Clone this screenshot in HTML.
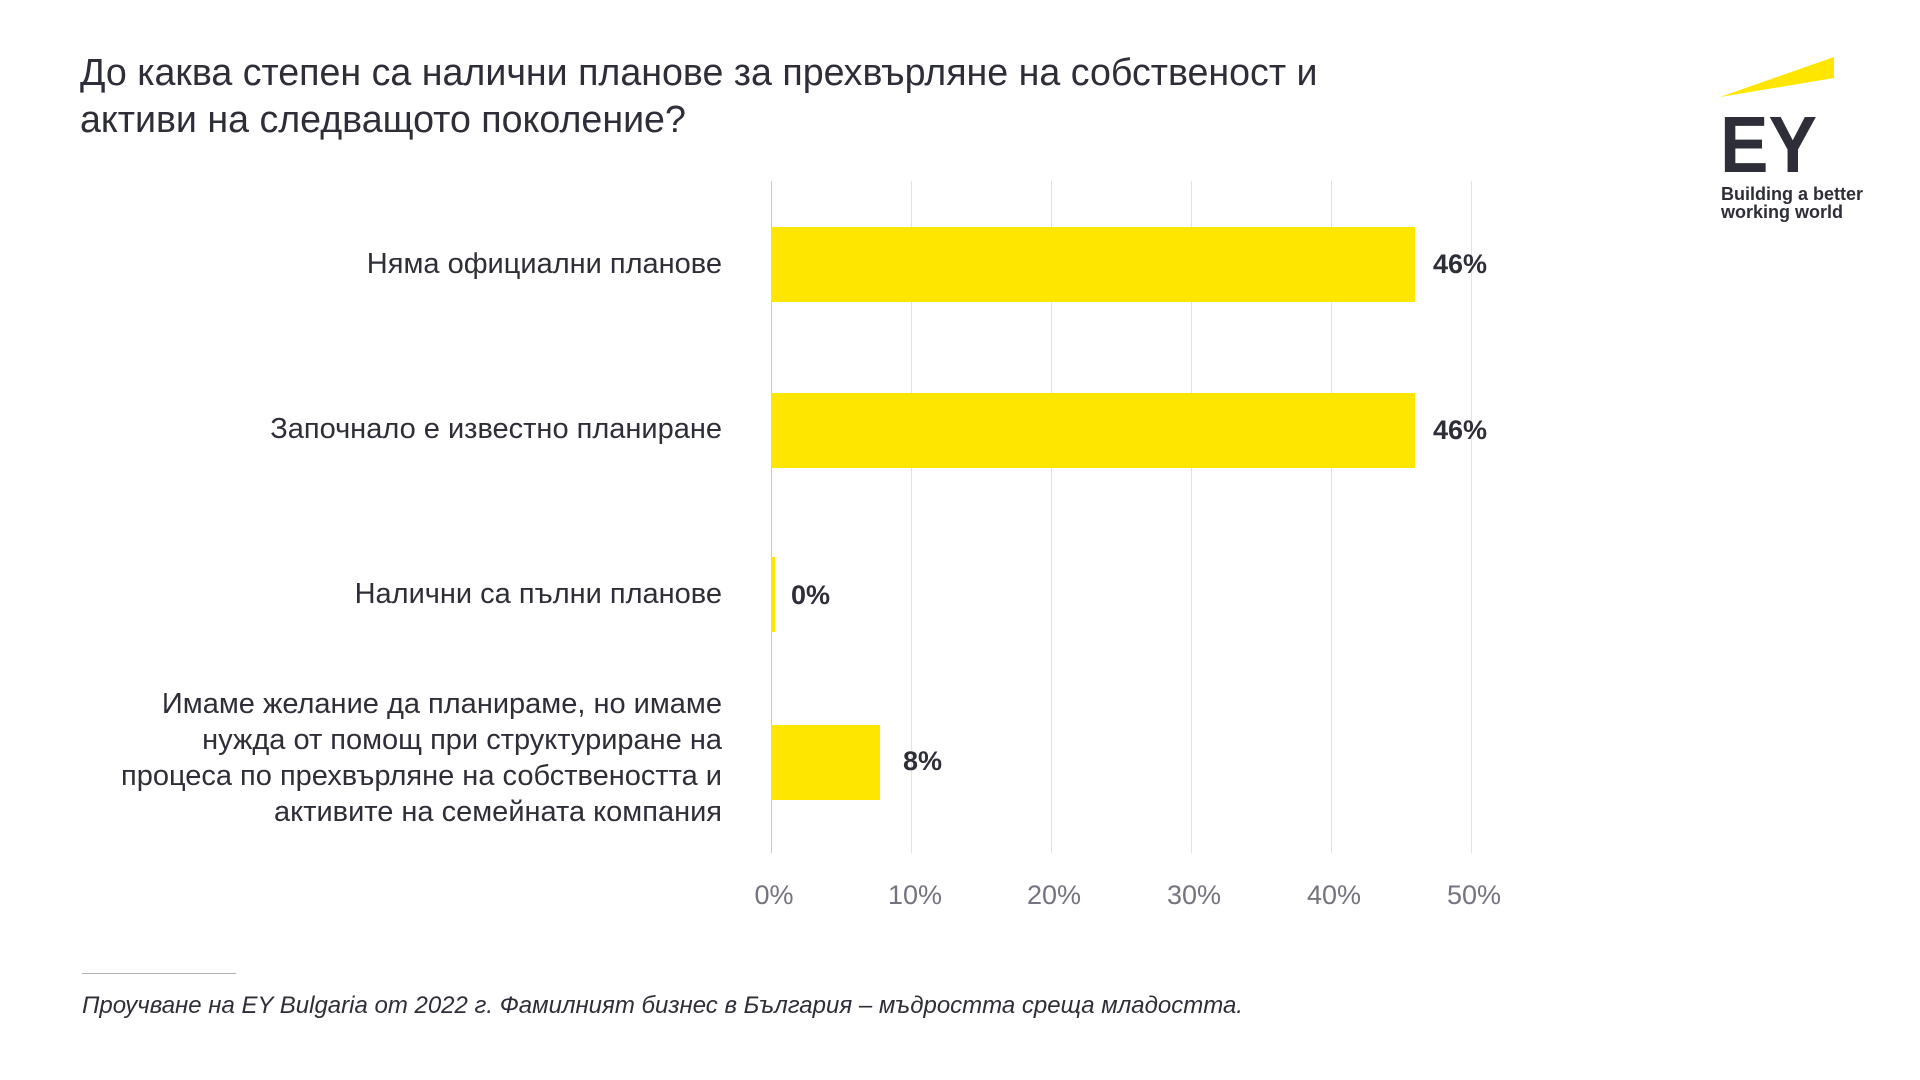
<!DOCTYPE html>
<html><head><meta charset="utf-8"><style>
body{margin:0;width:1920px;height:1080px;background:#fff;position:relative;overflow:hidden;font-family:"Liberation Sans","DejaVu Sans",sans-serif;color:#2e2e38}
.t{position:absolute;left:80px;top:49px;font-size:37.6px;line-height:47px;color:#2e2e38}
.cat{position:absolute;right:1198px;text-align:right;font-size:29px;line-height:36px;white-space:nowrap}
.g{position:absolute;top:181px;height:672px;width:1px;background:#e2e2e6}
.bar{position:absolute;left:771px;height:75px;background:#ffe600}
.v{position:absolute;font-size:27px;font-weight:bold;color:#2e2e38}
.tk{position:absolute;top:880px;font-size:27px;color:#747480;width:100px;text-align:center;margin-left:-50px}
</style></head><body>
<div class="t">До каква степен са налични планове за прехвърляне на собственост и<br>активи на следващото поколение?</div>
<svg style="position:absolute;left:1700px;top:50px" width="220" height="180">
<polygon points="20,47 134,7 134,28" fill="#ffe600"/>
<text x="20" y="122" font-family="Liberation Sans" font-weight="bold" font-size="80" fill="#2e2e38" textLength="97" lengthAdjust="spacingAndGlyphs">EY</text>
<text x="21" y="150" font-family="Liberation Sans" font-weight="bold" font-size="18" fill="#2e2e38">Building a better</text>
<text x="21" y="168" font-family="Liberation Sans" font-weight="bold" font-size="18" fill="#2e2e38">working world</text>
</svg>
<div class="g" style="left:771px;background:#c8c8d0"></div>
<div class="g" style="left:911px"></div>
<div class="g" style="left:1051px"></div>
<div class="g" style="left:1191px"></div>
<div class="g" style="left:1331px"></div>
<div class="g" style="left:1471px"></div>
<div class="bar" style="top:227px;width:644px"></div>
<div class="bar" style="top:393px;width:644px"></div>
<div class="bar" style="top:557px;width:4px"></div>
<div class="bar" style="top:725px;width:109px"></div>
<div class="v" style="left:1433px;top:249px">46%</div>
<div class="v" style="left:1433px;top:415px">46%</div>
<div class="v" style="left:791px;top:580px">0%</div>
<div class="v" style="left:903px;top:746px">8%</div>
<div class="cat" style="top:246px">Няма официални планове</div>
<div class="cat" style="top:411px">Започнало е известно планиране</div>
<div class="cat" style="top:576px">Налични са пълни планове</div>
<div class="cat" style="top:686px">Имаме желание да планираме, но имаме<br>нужда от помощ при структуриране на<br>процеса по прехвърляне на собствеността и<br>активите на семейната компания</div>
<div class="tk" style="left:774px">0%</div>
<div class="tk" style="left:915px">10%</div>
<div class="tk" style="left:1054px">20%</div>
<div class="tk" style="left:1194px">30%</div>
<div class="tk" style="left:1334px">40%</div>
<div class="tk" style="left:1474px">50%</div>
<div style="position:absolute;left:82px;top:973px;width:154px;height:1px;background:#b0b0b8"></div>
<div style="position:absolute;left:82px;top:992px;font-size:24px;font-style:italic">Проучване на EY Bulgaria от 2022 г. Фамилният бизнес в България – мъдростта среща младостта.</div>
</body></html>
